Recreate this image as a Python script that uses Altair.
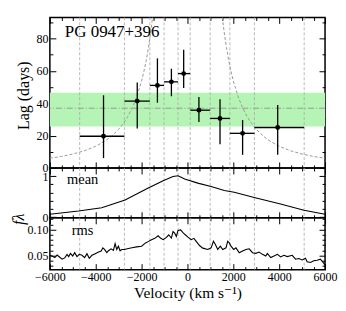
import altair as alt
import pandas as pd

FONT = "Liberation Serif, DejaVu Serif, serif"
GREEN = "#b6f4b6"
GRID = "#a8a8a8"

# ---- data ----
bin_edges = [-4700, -2750, -1640, -1020, -410, 120, 990, 1850, 2920, 5090]
lag_v = [-3660, -2190, -1310, -700, -165, 500, 1420, 2405, 3935]
lag = [19.6, 41.3, 51.0, 53.2, 58.3, 35.7, 30.6, 21.4, 25.0]
lag_hi = [44.9, 52.8, 67.7, 61.3, 73.0, 43.9, 42.5, 29.6, 38.9]
lag_lo = [6.1, 24.4, 40.3, 44.3, 49.4, 28.4, 14.7, 8.1, 8.1]

band_lo = [25.6]
band_hi = [46.4]
band_mid = [36.9]

env_v = [1450, 1500, 1600, 1700, 1800, 1900, 2000, 2200, 2400, 2600, 2800,
         3000, 3300, 3600, 4000, 4500, 5000, 5500, 6000]
env_lag = [102.3, 95.6, 84.0, 74.4, 66.4, 59.6, 53.8, 44.4, 37.3, 31.8, 27.4,
           23.9, 19.7, 16.6, 13.4, 10.6, 8.6, 7.1, 6.0]

mean_v = [-6000, -4750, -3740, -2720, -1710, -1060, -630, -410, -120, 450,
          1030, 1610, 2040, 2910, 4060, 5080, 6000]
mean_f = [0.07, 0.15, 0.23, 0.42, 0.71, 0.89, 0.99, 1.01, 0.93, 0.83,
          0.75, 0.65, 0.61, 0.48, 0.32, 0.17, 0.07]

rms_v = [-6000, -5900, -5784, -5683, -5582, -5466, -5351, -5250, -5178, -5105,
         -5004, -4918, -4817, -4716, -4600, -4484, -4383, -4282, -4167, -4022,
         -3878, -3762, -3690, -3618, -3517, -3445, -3329, -3228, -3156, -3084,
         -3012, -2939, -2867, -2752, -2578, -2362, -2217, -2001, -1827, -1712,
         -1568, -1423, -1279, -1178, -1062, -918, -817, -701, -629, -557,
         -485, -412, -297, -196, -95, 21, 165, 281, 382, 526,
         671, 887, 1032, 1133, 1219, 1320, 1436, 1537, 1681, 1754,
         1826, 1898, 2014, 2115, 2259, 2403, 2548, 2692, 2837, 2981,
         3125, 3270, 3414, 3486, 3631, 3775, 3920, 4064, 4208, 4353,
         4569, 4714, 4858, 5003, 5147, 5219, 5364, 5508, 5652, 5797,
         5941, 6000]
rms_f = [0.0507, 0.0494, 0.0463, 0.0513, 0.0475, 0.0432, 0.0457, 0.0525, 0.0482, 0.0544,
         0.0494, 0.0557, 0.0482, 0.0525, 0.0507, 0.0463, 0.0538, 0.0450, 0.0507, 0.0538,
         0.0569, 0.0588, 0.0650, 0.0619, 0.0557, 0.0594, 0.0631, 0.0600, 0.0731, 0.0619,
         0.0681, 0.0594, 0.0619, 0.0619, 0.0638, 0.0656, 0.0669, 0.0681, 0.0744, 0.0769,
         0.0806, 0.0831, 0.0881, 0.0837, 0.0806, 0.0850, 0.0900, 0.0837, 0.0962, 0.0931,
         0.0869, 0.0981, 0.0993, 0.0943, 0.0900, 0.0856, 0.0806, 0.0831, 0.0775, 0.0694,
         0.0644, 0.0619, 0.0650, 0.0775, 0.0713, 0.0619, 0.0681, 0.0619, 0.0650, 0.0775,
         0.0744, 0.0681, 0.0619, 0.0650, 0.0557, 0.0588, 0.0619, 0.0631, 0.0557, 0.0544,
         0.0569, 0.0525, 0.0494, 0.0544, 0.0463, 0.0494, 0.0525, 0.0475, 0.0507, 0.0482,
         0.0507, 0.0432, 0.0444, 0.0419, 0.0450, 0.0382, 0.0369, 0.0401, 0.0413, 0.0432,
         0.0357, 0.0319]

x_ticks = list(range(-6000, 6001, 500))
lag_ticks = list(range(0, 91, 10))
mean_ticks = [0, 0.2, 0.4, 0.6, 0.8, 1.0]
rms_ticks = [0.03, 0.04, 0.05, 0.06, 0.07, 0.08, 0.09, 0.10, 0.11, 0.12]

obj_label = ["PG 0947+396"]
obj_pos = [-5350, 83.8]
mean_label = ["mean"]
mean_pos = [-5250, 0.91]
rms_label = ["rms"]
rms_pos = [-5050, 0.0963]

# ---- tables ----
pts = pd.DataFrame({"v": lag_v, "lag": lag, "lo": lag_lo, "hi": lag_hi,
                    "xlo": bin_edges[:-1], "xhi": bin_edges[1:]})
band = pd.DataFrame({"lo": band_lo, "hi": band_hi, "mid": band_mid})
edges = pd.DataFrame({"v": bin_edges})
env = pd.concat([
    pd.DataFrame({"v": env_v, "lag": env_lag, "side": "r"}),
    pd.DataFrame({"v": [-v for v in env_v], "lag": env_lag, "side": "l"}),
])
mean_df = pd.DataFrame({"v": mean_v, "f": mean_f})
rms_df = pd.DataFrame({"v": rms_v, "f": rms_f})

xs = alt.Scale(domain=[-6000, 6000], nice=False, zero=False)
ys_lag = alt.Scale(domain=[0, 93], nice=False, zero=False)
ys_mean = alt.Scale(domain=[-0.015, 1.2], nice=False, zero=False)
ys_rms = alt.Scale(domain=[0.0232, 0.1225], nice=False, zero=False)

W = 276


def ax(orient, values, major, labels=False, fmt="d", title=None, **kw):
    props = dict(
        orient=orient, values=values, domain=False, grid=False,
        tickSize={"expr": "-6"}, tickColor="black", tickWidth=1,
        tickDash={"condition": {"test": major, "value": [6, 0]}, "value": [3, 6]},
        labels=labels, labelFlush=False, labelOverlap=False,
        labelFont=FONT, labelFontSize=12, labelColor="black",
        labelPadding=8, title=title, titleFont=FONT, titleFontSize=16,
        titleFontWeight="normal", titleColor="black",
    )
    if labels:
        props["labelExpr"] = f"({major}) ? format(datum.value, '{fmt}') : ''"
    props.update(kw)
    return alt.Axis(**props)


XMAJ = "datum.value % 2000 === 0"


def frame_layers(df, xf, yf, ys, y_vals, y_major, y_fmt, y_title=None,
                 x_labels=False, x_title=None, ykw=None, xkw=None):
    ykw = ykw or {}
    xkw = xkw or {}
    main = alt.Chart(df).mark_point(opacity=0).encode(
        x=alt.X(xf, type="quantitative", scale=xs,
                axis=ax("bottom", x_ticks, XMAJ, labels=x_labels, title=x_title, **xkw)),
        y=alt.Y(yf, type="quantitative", scale=ys,
                axis=ax("left", y_vals, y_major, labels=True, fmt=y_fmt, title=y_title, **ykw)),
    )
    mirror = alt.Chart(df).mark_point(opacity=0).encode(
        x=alt.X(xf, type="quantitative", scale=xs, axis=ax("top", x_ticks, XMAJ)),
        y=alt.Y(yf, type="quantitative", scale=ys, axis=ax("right", y_vals, y_major)),
    )
    return [main, mirror]


def edge_rules():
    return alt.Chart(edges).mark_rule(color=GRID, strokeDash=[3, 2], strokeWidth=0.8).encode(
        x=alt.X("v:Q", scale=xs, axis=None))


# ---- top panel ----
band_l = alt.Chart(band).mark_rect(color=GREEN).encode(
    y=alt.Y("lo:Q", scale=ys_lag, axis=None), y2="hi:Q")
mid_l = alt.Chart(band).mark_rule(color="#999999", strokeDash=[6, 2, 1, 2], strokeWidth=1).encode(
    y=alt.Y("mid:Q", scale=ys_lag, axis=None))
env_l = alt.Chart(env).mark_line(color="#999999", strokeDash=[3, 2], strokeWidth=1, clip=True).encode(
    x=alt.X("v:Q", scale=xs, axis=None), y=alt.Y("lag:Q", scale=ys_lag, axis=None), detail="side:N")
xerr = alt.Chart(pts).mark_rule(color="black", strokeWidth=1.3).encode(
    x=alt.X("xlo:Q", scale=xs, axis=None), x2="xhi:Q", y=alt.Y("lag:Q", scale=ys_lag, axis=None))
yerr = alt.Chart(pts).mark_rule(color="black", strokeWidth=1.3).encode(
    x=alt.X("v:Q", scale=xs, axis=None), y=alt.Y("lo:Q", scale=ys_lag, axis=None), y2="hi:Q")
dots = alt.Chart(pts).mark_circle(color="black", size=24, opacity=1).encode(
    x=alt.X("v:Q", scale=xs, axis=None), y=alt.Y("lag:Q", scale=ys_lag, axis=None))
obj_t = alt.Chart(pd.DataFrame({"t": obj_label, "x": [obj_pos[0]], "y": [obj_pos[1]]})).mark_text(
    font=FONT, fontSize=17, align="left", baseline="middle", color="black").encode(
    x=alt.X("x:Q", scale=xs, axis=None), y=alt.Y("y:Q", scale=ys_lag, axis=None), text="t:N")

top = alt.layer(
    band_l, mid_l, edge_rules(), env_l, xerr, yerr, dots, obj_t,
    *frame_layers(pts, "v", "lag", ys_lag, lag_ticks, "datum.value % 20 === 0", "d",
                  y_title="Lag (days)",
                  ykw=dict(titleX=-26, titleY=78, titleAngle=270, titleAlign="center",
                           titleBaseline="middle")),
).resolve_axis(x="independent", y="independent").properties(width=W, height=151)

# ---- middle panel ----
mean_line = alt.Chart(mean_df).mark_line(color="black", strokeWidth=1.1).encode(
    x=alt.X("v:Q", scale=xs, axis=None), y=alt.Y("f:Q", scale=ys_mean, axis=None))
mean_t = alt.Chart(pd.DataFrame({"t": mean_label, "x": [mean_pos[0]], "y": [mean_pos[1]]})).mark_text(
    font=FONT, fontSize=14.5, align="left", baseline="middle", color="black").encode(
    x=alt.X("x:Q", scale=xs, axis=None), y=alt.Y("y:Q", scale=ys_mean, axis=None), text="t:N")
mid = alt.layer(
    edge_rules(), mean_line, mean_t,
    *frame_layers(mean_df, "v", "f", ys_mean, mean_ticks,
                  "datum.value === 0 || datum.value === 1", "d",
                  y_title="fλ",
                  ykw=dict(titleX=-31, titleY=51, titleAngle=270, titleAlign="center",
                           titleBaseline="middle", titleFontStyle="italic")),
).resolve_axis(x="independent", y="independent").properties(width=W, height=50)

# ---- bottom panel ----
rms_line = alt.Chart(rms_df).mark_line(color="black", strokeWidth=1.1).encode(
    x=alt.X("v:Q", scale=xs, axis=None), y=alt.Y("f:Q", scale=ys_rms, axis=None))
rms_t = alt.Chart(pd.DataFrame({"t": rms_label, "x": [rms_pos[0]], "y": [rms_pos[1]]})).mark_text(
    font=FONT, fontSize=14.5, align="left", baseline="middle", color="black").encode(
    x=alt.X("x:Q", scale=xs, axis=None), y=alt.Y("y:Q", scale=ys_rms, axis=None), text="t:N")
bot = alt.layer(
    edge_rules(), rms_line, rms_t,
    *frame_layers(rms_df, "v", "f", ys_rms, rms_ticks,
                  "abs(datum.value * 20 - round(datum.value * 20)) < 0.000001", ".2f",
                  x_labels=True, x_title="Velocity (km s⁻¹)",
                  xkw=dict(titlePadding=3, titleFontSize=15.5)),
).resolve_axis(x="independent", y="independent").properties(width=W, height=52)

chart = alt.vconcat(top, mid, bot, spacing=0, bounds="flush").properties(
    padding={"left": 2, "top": 7, "right": 0, "bottom": 0}
).configure_view(stroke="black", strokeWidth=1.5)

chart.save("out.html", embed_options={"renderer": "svg", "actions": False})
